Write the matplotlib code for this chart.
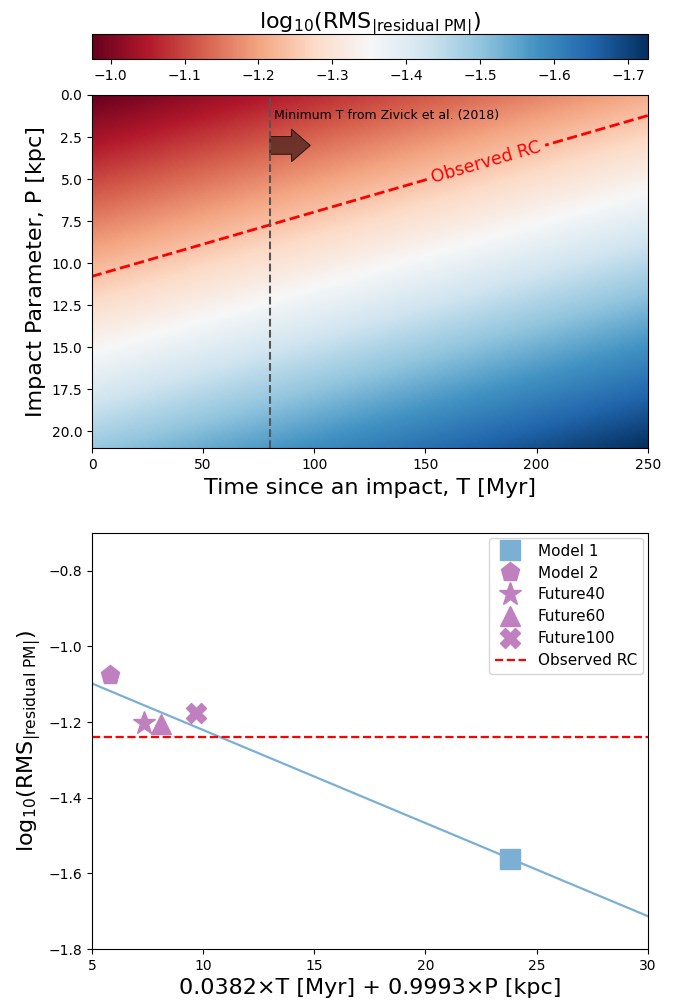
import numpy as np
import matplotlib.pyplot as plt

# linear fit of log10(RMS) against the combined parameter
coef_T = 0.0382
coef_P = 0.9993
fit_intercept = -0.975
fit_slope = -0.0246

# grid of impact times [Myr] and impact parameters [kpc]
T_grid = np.arange(0, 251, 1.0)
P_grid = np.arange(0, 21.1, 0.1)

observed_rc = -1.24
min_T_zivick = 80

# simulated runs: combined parameter and log10(RMS)
runs = ["Model 1", "Model 2", "Future40", "Future60", "Future100"]
run_x = [23.8, 5.8, 7.33, 8.09, 9.66]
run_y = [-1.562, -1.075, -1.203, -1.205, -1.175]
run_marker = ["s", "p", "*", "^", "X"]
run_size = [14, 14, 17, 14, 14]
run_color = ["#7bafd4", "#c080c0", "#c080c0", "#c080c0", "#c080c0"]

cbar_ticks = [-1.0, -1.1, -1.2, -1.3, -1.4, -1.5, -1.6, -1.7]

label_rms = r"log$_{10}$(RMS$_{|\mathrm{residual\ PM}|}$)"

fig = plt.figure(figsize=(6.92, 10.05), dpi=100)
cax = fig.add_axes([0.133, 0.941, 0.803, 0.025])
ax1 = fig.add_axes([0.133, 0.554, 0.803, 0.3515])
ax2 = fig.add_axes([0.133, 0.0557, 0.803, 0.414])

# ---- top: map over (T, P)
TT, PP = np.meshgrid(T_grid, P_grid)
Z = fit_intercept + fit_slope * (coef_T * TT + coef_P * PP)
im = ax1.imshow(Z, cmap="RdBu_r", aspect="auto", origin="upper",
                extent=[T_grid[0], T_grid[-1], P_grid[-1], P_grid[0]],
                vmin=Z.min(), vmax=Z.max(), interpolation="bilinear")
ax1.set_xlim(0, 250)
ax1.set_ylim(21, 0)
ax1.set_yticks(np.arange(0, 20.1, 2.5))
ax1.set_yticklabels([f"{v:.1f}" for v in np.arange(0, 20.1, 2.5)])

cs = ax1.contour(TT, PP, Z, levels=[observed_rc], colors="red",
                 linestyles="--", linewidths=2)
ax1.clabel(cs, fmt={observed_rc: "Observed RC"}, inline=True, fontsize=12.5,
           manual=[(177, 3.9)])

ax1.axvline(min_T_zivick, color="#555555", linestyle="--", linewidth=1.5)
ax1.arrow(min_T_zivick, 3.0, 18.2, 0, width=1.05, head_width=1.95,
          head_length=8.5, length_includes_head=True,
          fc="#5a2a22", ec="black", lw=0.6, alpha=0.85)
ax1.text(min_T_zivick + 2, 1.2, "Minimum T from Zivick et al. (2018)",
         fontsize=9, va="center")

ax1.set_xlabel("Time since an impact, T [Myr]", fontsize=16)
ax1.set_ylabel("Impact Parameter, P [kpc]", fontsize=16)
ax1.tick_params(labelsize=10)

cb = fig.colorbar(im, cax=cax, orientation="horizontal")
cax.invert_xaxis()
cb.set_ticks(cbar_ticks)
cb.set_ticklabels([f"{t:.1f}".replace("-", "\u2212") for t in cbar_ticks])
cax.tick_params(labelsize=10)
cax.xaxis.set_label_position("top")
cb.set_label(label_rms, fontsize=16)

# ---- bottom: runs against the fit
xs = np.array([5, 30])
ax2.plot(xs, fit_intercept + fit_slope * xs, color="#7bafd4", lw=1.6)
for name, x, y, m, s, c in zip(runs, run_x, run_y, run_marker, run_size, run_color):
    ax2.plot(x, y, marker=m, markersize=s, color=c, linestyle="none", label=name)
ax2.axhline(observed_rc, color="red", linestyle="--", lw=1.6, label="Observed RC")

ax2.set_xlim(5, 30)
ax2.set_ylim(-1.8, -0.7)
ax2.set_yticks([-1.8, -1.6, -1.4, -1.2, -1.0, -0.8])
ax2.tick_params(labelsize=10)
ax2.set_xlabel("0.0382\u00d7T [Myr] + 0.9993\u00d7P [kpc]", fontsize=16)
ax2.set_ylabel(label_rms, fontsize=16)
ax2.legend(loc="upper right", fontsize=11, borderaxespad=0.3, labelspacing=0.45)

fig.savefig("out.png", dpi=100)
